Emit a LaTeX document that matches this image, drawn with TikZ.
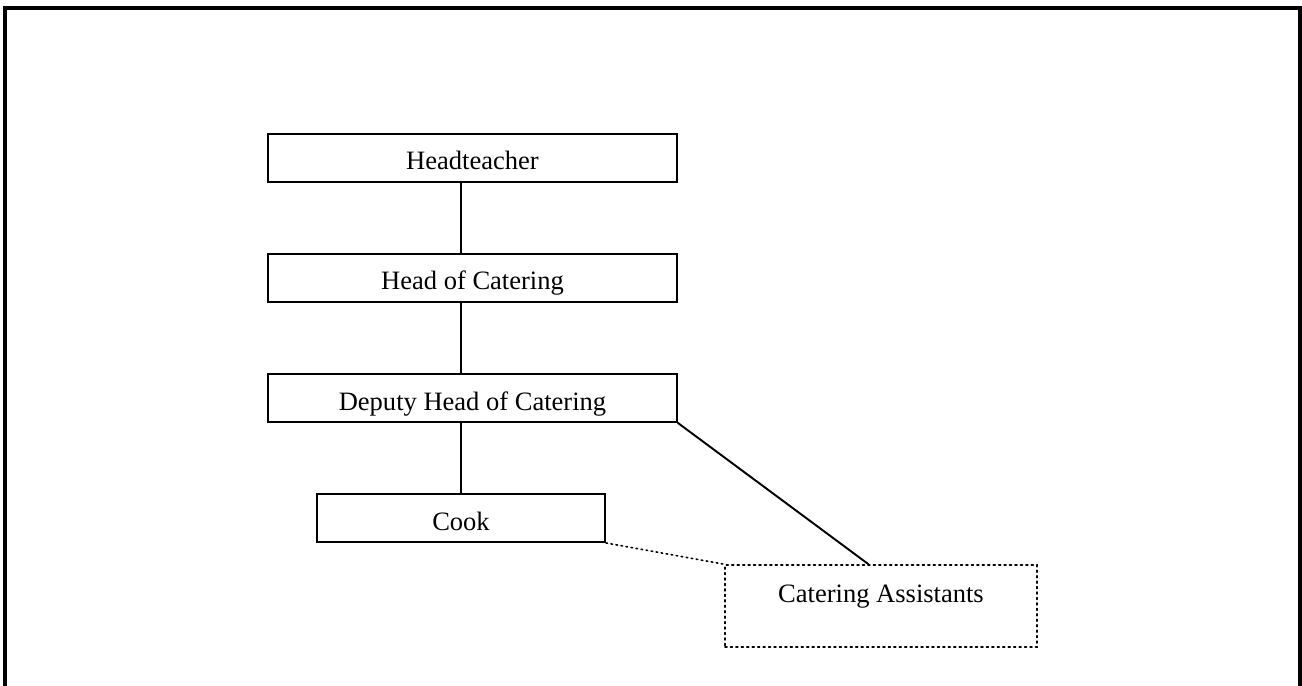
\documentclass[tikz,border=0pt]{standalone}
\usepackage{fontspec}
\setmainfont{Liberation Serif}
\usetikzlibrary{calc}

\begin{document}
\begin{tikzpicture}[line cap=round,line join=round,x=0.02cm,y=-0.02cm,
    post/.style={draw,line width=1.1pt,line join=miter,inner sep=0pt,minimum width=8.18cm,
        text height=0.72cm,text depth=0.24cm,font=\fontsize{15.1}{18}\selectfont},
    helper/.style={post,dotted,line width=0.9pt,minimum width=6.24cm,
        text height=0.74cm,text depth=0.9cm},
    link/.style={line width=1.1pt}]
\useasboundingbox (0,0) rectangle (1302,686);
% Rahmen (unten offen)
\draw[line width=2.3pt,line cap=butt,line join=miter] (5,690) -- (5,8) -- (1300,8) -- (1300,690);

% Stellen
\node[post] (head) at (472.5,158) {Headteacher};
\node[post] (catering) at (472.5,278) {Head of Catering};
\node[post] (deputy) at (472.5,398) {Deputy Head of Catering};
\node[post,minimum width=5.76cm] (cook) at (461,518) {Cook};
\node[helper] (assist) at (881,606) {Catering Assistants};

% Verbindungen
\draw[link] (head.south -| cook.north) -- (catering.north -| cook.north);
\draw[link] (catering.south -| cook.north) -- (deputy.north -| cook.north);
\draw[link] (deputy.south -| cook.north) -- (cook.north);
\draw[link] (deputy.south east) -- ($(assist.north west)!0.46!(assist.north east)$);
\draw[dotted,line width=0.9pt] (cook.south east) -- (assist.north west);
\end{tikzpicture}
\end{document}
